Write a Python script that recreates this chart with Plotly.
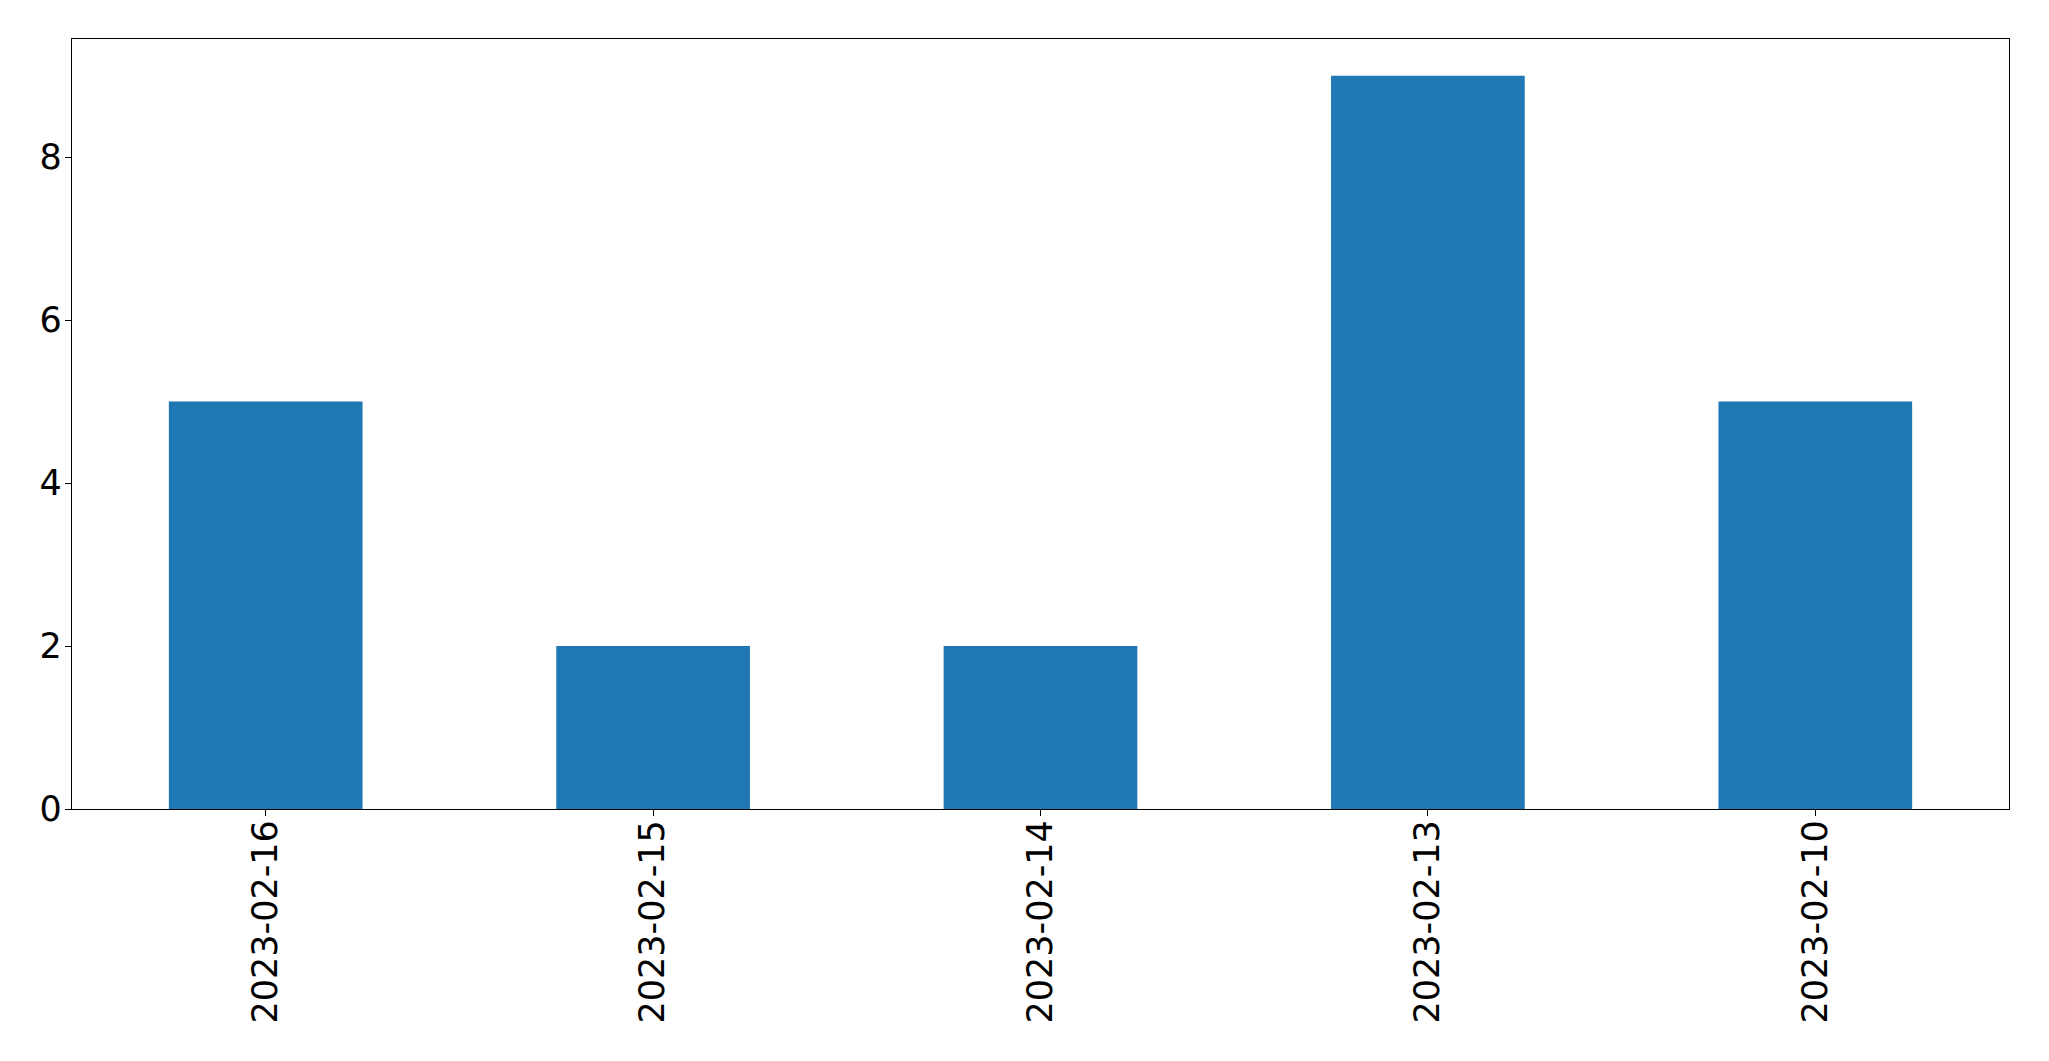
import plotly.graph_objects as go

dates = ["2023-02-16", "2023-02-15", "2023-02-14", "2023-02-13", "2023-02-10"]
counts = [5, 2, 2, 9, 5]
y_ticks = [0, 2, 4, 6, 8]

fig = go.Figure(go.Bar(x=dates, y=counts, marker=dict(color="#1f77b4", line=dict(width=0))))

font = dict(family="DejaVu Sans", size=35, color="black")
fig.update_layout(
    width=2049, height=1061,
    margin=dict(l=64, r=48, t=31, b=260),
    plot_bgcolor="white", paper_bgcolor="white",
    bargap=0.5, showlegend=False, font=font,
)
fig.update_xaxes(type="category", tickangle=-90, showline=True, mirror=True,
                 linecolor="black", linewidth=1.3, ticks="outside", ticklen=6,
                 tickcolor="black", tickwidth=1.3, showgrid=False, tickfont=font,
                 range=[-0.5, 4.5], ticklabelstandoff=-10)
fig.update_yaxes(range=[0, 9.45], tickvals=y_ticks, showline=True, mirror=True,
                 linecolor="black", linewidth=1.3, ticks="outside", ticklen=6,
                 tickcolor="black", tickwidth=1.3, showgrid=False, zeroline=False,
                 tickfont=font, ticklabelstandoff=-4)
fig.write_html("out.html")
